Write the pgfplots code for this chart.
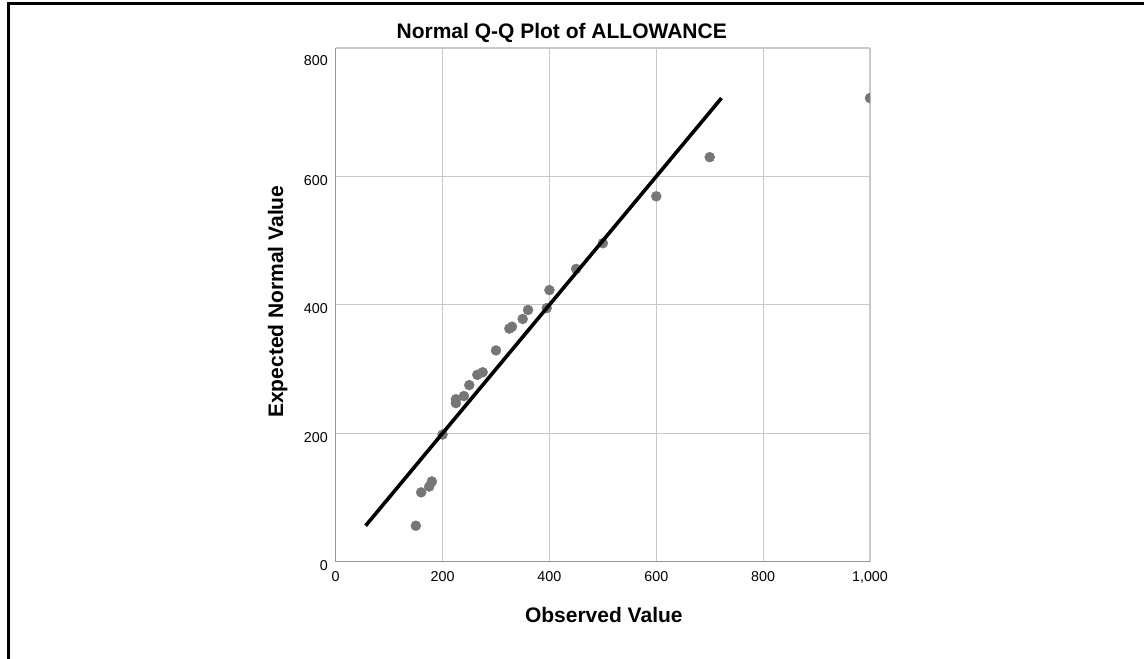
\documentclass[border=0pt]{standalone}
\usepackage{fontspec}
\setmainfont{Liberation Sans}
\usepackage{pgfplots}
\pgfplotsset{compat=1.18}
\definecolor{gridgray}{RGB}{200,200,200}
\definecolor{axgray}{RGB}{150,150,150}
\definecolor{ptgray}{RGB}{118,118,118}
\begin{document}
\begin{tikzpicture}[x=1pt,y=1pt]
\useasboundingbox (0,0) rectangle (1144,659);
\draw[line width=2.6pt] (8.3,0) -- (8.3,655.5) -- (1144,655.5);
\begin{axis}[
  at={(335.7pt,97.3pt)}, anchor=south west,
  scale only axis, width=534.3pt, height=513.7pt,
  xmin=0, xmax=1000, ymin=0, ymax=800,
  axis lines*=left,
  axis line style={axgray, line width=1.5pt},
  grid=major,
  major grid style={gridgray, line width=1.2pt},
  major tick length=0pt,
  xtick={0,200,400,600,800,1000},
  xticklabels={0,200,400,600,800,{1,000}},
  ytick={0,200,400,600},
  yticklabels={0,200,400,600},
  extra y ticks={800},
  extra y tick labels={800},
  extra y tick style={grid=major, major grid style={gridgray, line width=1.2pt},
     yticklabel style={yshift=-9pt}},
  tick label style={font=\fontsize{14.3}{16}\selectfont, inner sep=0pt},
  xticklabel style={anchor=north, yshift=-10pt},
  yticklabel style={anchor=east, xshift=-7.7pt, yshift=-4pt},
  clip mode=individual,
  clip marker paths=true,
]
\addplot[only marks, mark=*, mark size=5pt, mark options={fill=ptgray, draw=ptgray}]
coordinates {
(150,56) (160,108) (175,117) (180,125) (200,198) (225,247) (225,253)
(240,258) (250,275) (265,291) (275,295) (300,329) (325,363) (330,366)
(350,378) (360,392) (395,395) (400,423) (450,456) (500,496) (600,569)
(700,630) (1000,722)
};
\addplot[black, line width=3.6pt] coordinates {(56,56) (722,722)};
\end{axis}
\node[font=\bfseries\fontsize{21}{25}\selectfont, anchor=base, inner sep=0pt] at (561.7,620.7) {Normal Q-Q Plot of ALLOWANCE};
\node[font=\bfseries\fontsize{21}{25}\selectfont, anchor=base, inner sep=0pt] at (603.8,36.7) {Observed Value};
\node[font=\bfseries\fontsize{21}{25}\selectfont, anchor=base, inner sep=0pt, rotate=90] at (283,357.3) {Expected Normal Value};
\end{tikzpicture}
\end{document}
